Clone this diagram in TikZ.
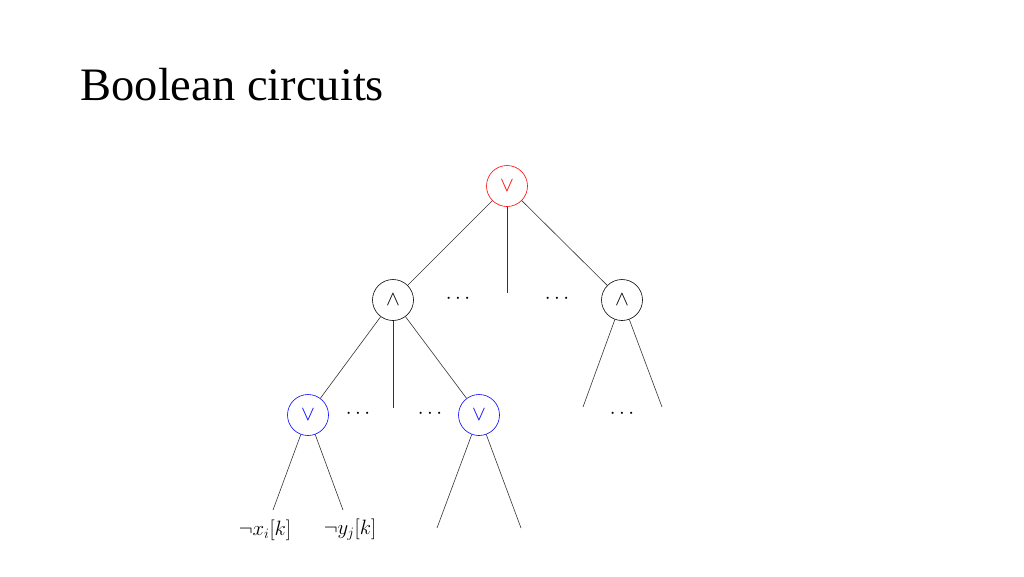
\documentclass[tikz,border=0pt]{standalone}
\usepackage{fontspec}
\newfontfamily\titlefont{Liberation Serif}
\begin{document}
\begin{tikzpicture}[x=1pt,y=-1pt,
  gate/.style={circle,draw=#1,minimum size=41pt,inner sep=0pt,line width=0.6pt,text=#1,font=\fontsize{22}{22}\selectfont},
  wire/.style={line width=0.6pt,draw=black!80},
  lab/.style={font=\fontsize{22}{22}\selectfont}]
\useasboundingbox (0,0) rectangle (1024,576);
\node[anchor=base west,font=\titlefont\fontsize{46.5}{46.5}\selectfont] (title) at (77,100) {Boolean circuits};
\node[gate=red] (top) at (507,186) {$\vee$};
\node[gate=black] (al) at (393,300) {$\wedge$};
\node[gate=black] (ar) at (622,300) {$\wedge$};
\node[gate=blue] (ol) at (308,415) {$\vee$};
\node[gate=blue] (or) at (479,415) {$\vee$};
\coordinate (tm) at (507,293);
\coordinate (am) at (393,408);
\coordinate (r1) at (583,407);
\coordinate (r2) at (662,407);
\coordinate (b1) at (437,528);
\coordinate (b2) at (521,528);
\node[lab] (xl) at (265,530) {$\neg x_i[k]$};
\node[lab] (yl) at (350,530) {$\neg y_j[k]$};
\node[lab] (d1) at (458,299) {$\cdots$};
\node[lab] (d2) at (557,299) {$\cdots$};
\node[lab] (d3) at (358,414) {$\cdots$};
\node[lab] (d4) at (430,414) {$\cdots$};
\node[lab] (d5) at (622,414) {$\cdots$};
\draw[wire] (top) -- (al);
\draw[wire] (top) -- (tm);
\draw[wire] (top) -- (ar);
\draw[wire] (al) -- (ol);
\draw[wire] (al) -- (am);
\draw[wire] (al) -- (or);
\draw[wire] (ar) -- (r1);
\draw[wire] (ar) -- (r2);
\draw[wire] (ol) -- (273,510);
\draw[wire] (ol) -- (343,510);
\draw[wire] (or) -- (b1);
\draw[wire] (or) -- (b2);
\end{tikzpicture}
\end{document}
